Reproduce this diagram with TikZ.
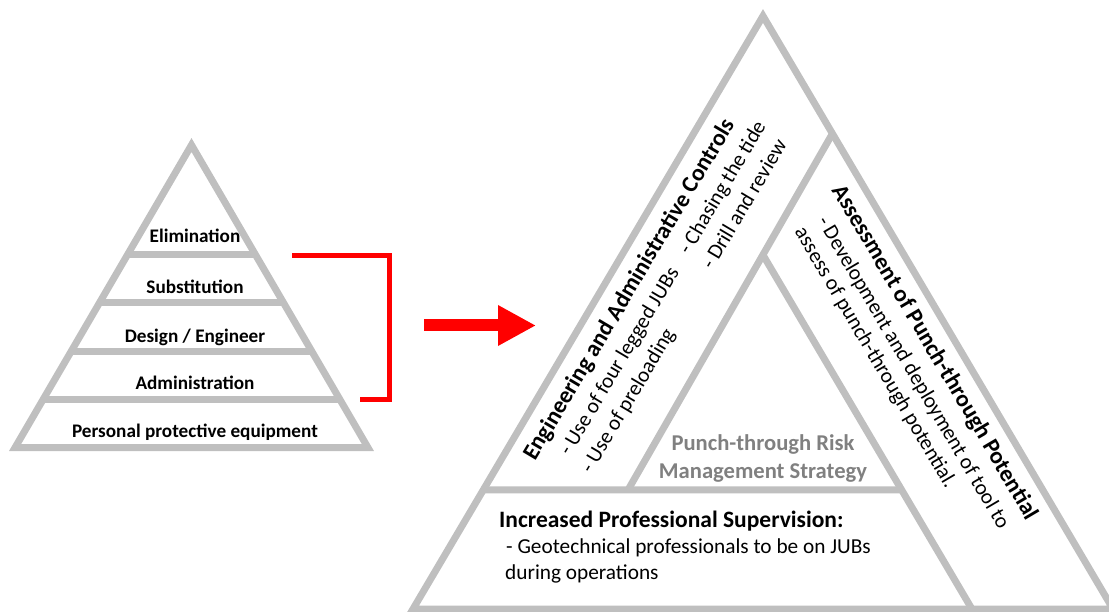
\documentclass[tikz,border=0pt]{standalone}
\usepackage{fontspec}
\setmainfont{Carlito}
\usetikzlibrary{calc,arrows.meta}
\definecolor{linegray}{HTML}{BFBFBF}
\definecolor{textgray}{HTML}{808080}
\definecolor{brightred}{HTML}{FF0000}
\begin{document}
\begin{tikzpicture}[x=1pt,y=-1pt,
  frame/.style={draw=linegray, line width=7pt, line join=miter},
  level/.style={font=\fontsize{19.2}{22}\selectfont\bfseries, anchor=base, inner sep=0pt},
  head/.style={font=\fontsize{23.5}{28}\selectfont\bfseries, anchor=base west, inner sep=0pt},
  body/.style={font=\fontsize{21.3}{26}\selectfont, anchor=base west, inner sep=0pt},
  core/.style={font=\fontsize{22.6}{28}\selectfont\bfseries, text=textgray, anchor=base, inner sep=0pt},
  bracket/.style={draw=brightred, line width=5pt, line join=miter},
  bigarrow/.style={draw=brightred, line width=12pt, -{Triangle[length=38pt,width=38pt]}},
]
\useasboundingbox (0,0) rectangle (1109,612);
\clip (0,0) rectangle (1109,612);

% ---- hierarchy of controls pyramid ----
\coordinate (Ltop) at (191.5,145);
\coordinate (Lbl) at (15.1,447.5);
\coordinate (Lbr) at (367.9,447.5);
\draw[frame] (Ltop) -- (Lbl) -- (Lbr) -- cycle;
\foreach \t in {0.3636,0.5223,0.6810,0.8397}
  \draw[frame] ($(Ltop)!\t!(Lbl)$) -- ($(Ltop)!\t!(Lbr)$);

\node[level] (elim) at (195,242.7) {Elimination};
\node[level] (subs) at (195,293.3) {Substitution};
\node[level] (desg) at (195,342.3) {Design / Engineer};
\node[level] (admn) at (195,389.3) {Administration};
\node[level] (ppe)  at (195,437.3) {Personal protective equipment};

% ---- bracket and arrow ----
\coordinate (br1) at (292,256);
\coordinate (br2) at (389,256);
\coordinate (br3) at (389,400);
\coordinate (br4) at (360,400);
\draw[bracket] (br1) -- (br2) -- (br3) -- (br4);

\coordinate (arrowtail) at (424,325.5);
\coordinate (arrowtip) at (536,325.5);
\draw[bigarrow] (arrowtail) -- (arrowtip);

% ---- strategy triangle ----
\coordinate (Rtop) at (763,16);
\coordinate (Rbl) at (413,609);
\coordinate (Rbr) at (1113,609);
\draw[frame] (Rtop) -- (Rbl) -- (Rbr) -- cycle;
\coordinate (Abot) at (628,490);
\coordinate (Atop) at (832.5,133.5);
\coordinate (Bapex) at (763,255);
\coordinate (Bbot) at (971.9,609);
\coordinate (Cleft) at ($(Rtop)!0.7993!(Rbl)$);
\coordinate (Cright) at ($(Bapex)!0.6638!(Bbot)$);
\draw[frame] (Abot) -- (Atop);
\draw[frame] (Bapex) -- (Bbot);
\draw[frame] (Cleft) -- (Cright);

\node[core] (pt1) at (763,450) {Punch-through Risk};
\node[core] (pt2) at (763,478.3) {Management Strategy};

\node[head] (sup) at (499,527) {Increased Professional Supervision:};
\node[body] (geo1) at (506,553.3) {- Geotechnical professionals to be on JUBs};
\node[body] (geo2) at (505,579.3) {during operations};

% left band, text running up along the edge
\begin{scope}[shift={(535,462)}, rotate=59.3, transform shape]
  \node[head] (eac) at (0,0) {Engineering and Administrative Controls};
  \node[body] (legs) at (22,27.5) {- Use of four legged JUBs};
  \node[body] (prel) at (18,55) {- Use of preloading};
  \node[body] (tide) at (256,27.5) {- Chasing the tide};
  \node[body] (dril) at (255,55) {- Drill and review};
\end{scope}

% right band, text running down along the edge
\begin{scope}[shift={(831.7,190)}, rotate=-59.5, transform shape]
  \node[head] (asp) at (0,0) {Assessment of Punch-through Potential};
  \node[body] (dev) at (19,28.5) {- Development and deployment of tool to};
  \node[body] (ass) at (17,53.5) {assess of punch-through potential.};
\end{scope}
\end{tikzpicture}
\end{document}
